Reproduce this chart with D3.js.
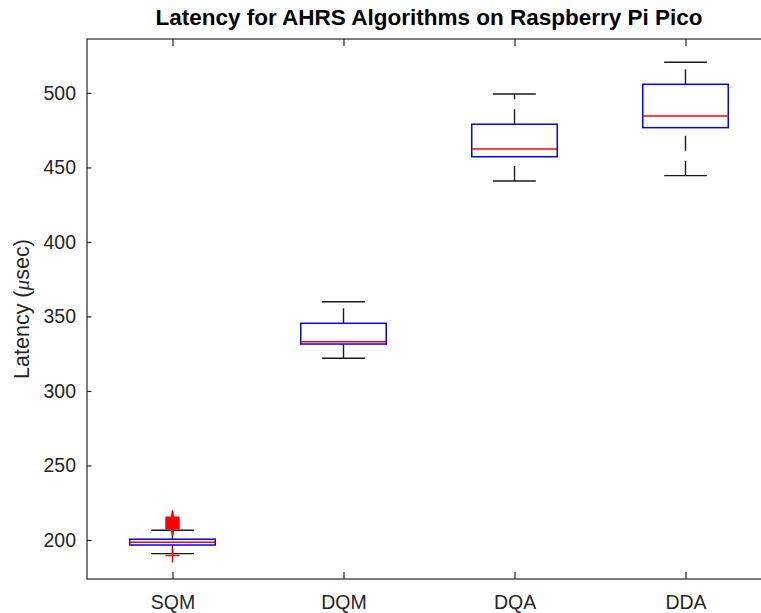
<!DOCTYPE html>
<html><head><meta charset="utf-8">
<script src="https://cdn.jsdelivr.net/npm/d3@7"></script>
<style>body{margin:0;background:#fff;} svg{display:block;}</style>
</head><body>
<script>
const categories = ["SQM", "DQM", "DQA", "DDA"];
const lowerWhisker = [190.8, 321.9, 440.9, 444.5];
const q1Values     = [196.6, 331.5, 457.2, 476.7];
const medians      = [198.5, 333.1, 462.4, 484.6];
const q3Values     = [200.5, 345.4, 479.0, 505.8];
const upperWhisker = [206.5, 359.9, 499.3, 520.6];
const outliersSQM  = [207.5, 208, 208.5, 209, 209.5, 210, 210.5, 211, 211.5, 212, 212.5, 213, 213.5, 214, 214.5, 215.3, 189.5];
const yTicks = [200, 250, 300, 350, 400, 450, 500];

const W = 761, H = 613;
const L = 87, R = 771, T = 39, B = 579;
const svg = d3.select("body").append("svg").attr("width", W).attr("height", H)
  .style("font-family", "'Liberation Sans', Arial, Helvetica, sans-serif");

const x = d3.scaleLinear().domain([0.5, 4.5]).range([L, R]);
const y = d3.scaleLinear().domain([173.8, 536.2]).range([B, T]);
const axisColor = "#262626";
const tickFont = 19.5;

// boxes
const data = categories.map((c, i) => ({c, i: i + 1, lo: lowerWhisker[i], q1: q1Values[i], med: medians[i], q3: q3Values[i], hi: upperWhisker[i]}));
const bw = 0.25, cw = 0.125;
const g = svg.append("g");
data.forEach(d => {
  // whiskers (drawn from lower value upward)
  g.append("line").attr("x1", x(d.i)).attr("x2", x(d.i)).attr("y1", y(d.q3)).attr("y2", y(d.hi))
    .attr("stroke", "#1a1a1a").attr("stroke-width", 1.4).attr("stroke-dasharray", "15,10");
  g.append("line").attr("x1", x(d.i)).attr("x2", x(d.i)).attr("y1", y(d.lo)).attr("y2", y(d.q1))
    .attr("stroke", "#1a1a1a").attr("stroke-width", 1.4).attr("stroke-dasharray", "15,10");
  // caps
  [d.lo, d.hi].forEach(v => g.append("line").attr("x1", x(d.i - cw)).attr("x2", x(d.i + cw))
    .attr("y1", y(v)).attr("y2", y(v)).attr("stroke", "#1a1a1a").attr("stroke-width", 1.4));
  // box
  g.append("rect").attr("x", x(d.i - bw)).attr("width", x(d.i + bw) - x(d.i - bw))
    .attr("y", y(d.q3)).attr("height", y(d.q1) - y(d.q3))
    .attr("fill", "none").attr("stroke", "#0000ff").attr("stroke-width", 1.5);
  // median
  g.append("line").attr("x1", x(d.i - bw)).attr("x2", x(d.i + bw)).attr("y1", y(d.med)).attr("y2", y(d.med))
    .attr("stroke", "#ff0000").attr("stroke-width", 1.5);
});
// outliers
const ms = 7;
outliersSQM.forEach(v => {
  const cx = x(1), cy = y(v);
  g.append("path").attr("d", `M${cx - ms},${cy}H${cx + ms}M${cx},${cy - ms}V${cy + ms}`)
    .attr("stroke", "#ff0000").attr("stroke-width", 1.5).attr("fill", "none");
});

// axes frame
svg.append("rect").attr("x", L).attr("y", T).attr("width", R - L).attr("height", B - T)
  .attr("fill", "none").attr("stroke", axisColor).attr("stroke-width", 1.2);

const yAxis = d3.axisLeft(y).tickValues(yTicks).tickSizeInner(-4.5).tickSizeOuter(0).tickPadding(11);
const ya = svg.append("g").attr("transform", `translate(${L},0)`).call(yAxis);
ya.select(".domain").remove();
ya.selectAll("line").attr("stroke", axisColor).attr("stroke-width", 1.2);
ya.selectAll("text").attr("font-size", tickFont).attr("fill", axisColor).style("font-family", "'Liberation Sans', Arial, sans-serif");

const yAxisR = d3.axisRight(y).tickValues(yTicks).tickSizeInner(-4.5).tickSizeOuter(0).tickFormat("");
const yr = svg.append("g").attr("transform", `translate(${R},0)`).call(yAxisR);
yr.select(".domain").remove();
yr.selectAll("line").attr("stroke", axisColor).attr("stroke-width", 1.2);

const xAxis = d3.axisBottom(x).tickValues([1, 2, 3, 4]).tickFormat((d) => categories[d - 1])
  .tickSizeInner(-7).tickSizeOuter(0).tickPadding(16);
const xa = svg.append("g").attr("transform", `translate(0,${B})`).call(xAxis);
xa.select(".domain").remove();
xa.selectAll("line").attr("stroke", axisColor).attr("stroke-width", 1.2);
xa.selectAll("text").attr("font-size", tickFont).attr("fill", axisColor).style("font-family", "'Liberation Sans', Arial, sans-serif");

const xAxisT = d3.axisTop(x).tickValues([1, 2, 3, 4]).tickFormat("").tickSizeInner(-7).tickSizeOuter(0);
const xt = svg.append("g").attr("transform", `translate(0,${T})`).call(xAxisT);
xt.select(".domain").remove();
xt.selectAll("line").attr("stroke", axisColor).attr("stroke-width", 1.2);

// title
svg.append("text").attr("x", (L + R) / 2).attr("y", 25).attr("text-anchor", "middle")
  .attr("font-size", 22.5).attr("font-weight", "bold").attr("fill", "#000")
  .text("Latency for AHRS Algorithms on Raspberry Pi Pico");

// y label
const yl = svg.append("text").attr("transform", `translate(29,${(T + B) / 2}) rotate(-90)`)
  .attr("text-anchor", "middle").attr("font-size", 21.5).attr("fill", axisColor);
yl.append("tspan").text("Latency (");
yl.append("tspan").attr("font-style", "italic").attr("font-family", "'Liberation Serif', serif").text("μ");
yl.append("tspan").text("sec)");
</script>
</body></html>
